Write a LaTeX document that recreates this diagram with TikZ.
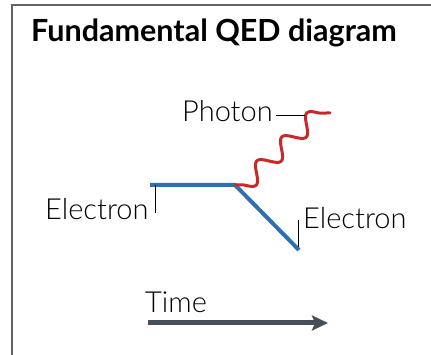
\documentclass[tikz,border=0pt]{standalone}
\usepackage{fontspec}
\setmainfont{Lato}[UprightFont=* Light, BoldFont=* Bold]
\usetikzlibrary{arrows.meta}
\definecolor{eblue}{RGB}{47,111,178}
\definecolor{pred}{RGB}{200,42,42}
\definecolor{tgray}{RGB}{69,80,90}
\definecolor{fgray}{RGB}{100,100,100}
\tikzset{
  lbl/.style={inner sep=0pt, anchor=base west, font=\fontsize{29}{32}\selectfont},
  ttl/.style={inner sep=0pt, anchor=base west, font=\fontsize{30.5}{33}\selectfont\bfseries},
  eline/.style={draw=eblue, line width=4pt},
  wave/.style={draw=pred, line width=3pt, line cap=round, line join=round},
  leader/.style={draw=black, line width=0.8pt},
  framel/.style={draw=fgray, line width=2pt}
}
\begin{document}
\begin{tikzpicture}[x=1pt,y=1pt]
\useasboundingbox (0,0) rectangle (431,355);
% frame
\coordinate (fbl) at (12,-2);
\coordinate (ftl) at (12,350);
\coordinate (ftr) at (433,350);
\draw[framel] (fbl) -- (ftl) -- (ftr);
% title
\node[ttl] (title) at (31,313) {Fundamental QED diagram};
% diagram points
\coordinate (ein) at (150,170);
\coordinate (v) at (235,170);
\coordinate (eout) at (299,105);
\coordinate (pend) at (330,242);
\draw[eline] (ein) -- (v) -- (eout);
% photon wave
\draw[wave] (v) -- plot[domain=0:104, samples=160, smooth, variable=\u]
  ({244+\u*0.7218+8.5*sin(\u*10.3846)*0.6921},
   {170+\u*0.6921-8.5*sin(\u*10.3846)*0.7218}) -- (pend);
% labels
\node[lbl] (photon) at (182,233) {Photon};
\coordinate (pl) at (305,240);
\draw[leader] (photon.east |- pl) ++(3,0) -- (pl);
\node[lbl] (e1) at (45,135) {Electron};
\coordinate (l1a) at (155,170);
\coordinate (l1b) at (155,142);
\draw[leader] (l1a) -- (l1b);
\node[lbl] (e2) at (303,126) {Electron};
\coordinate (l2a) at (298,135);
\coordinate (l2b) at (298,108);
\draw[leader] (l2a) -- (l2b);
% time
\node[lbl] (time) at (145,42) {Time};
\coordinate (ta) at (148,32);
\coordinate (tb) at (328,32);
\draw[draw=tgray, line width=5pt, -{Stealth[length=16pt,width=15pt,inset=3pt]}] (ta) -- (tb);
\end{tikzpicture}
\end{document}
